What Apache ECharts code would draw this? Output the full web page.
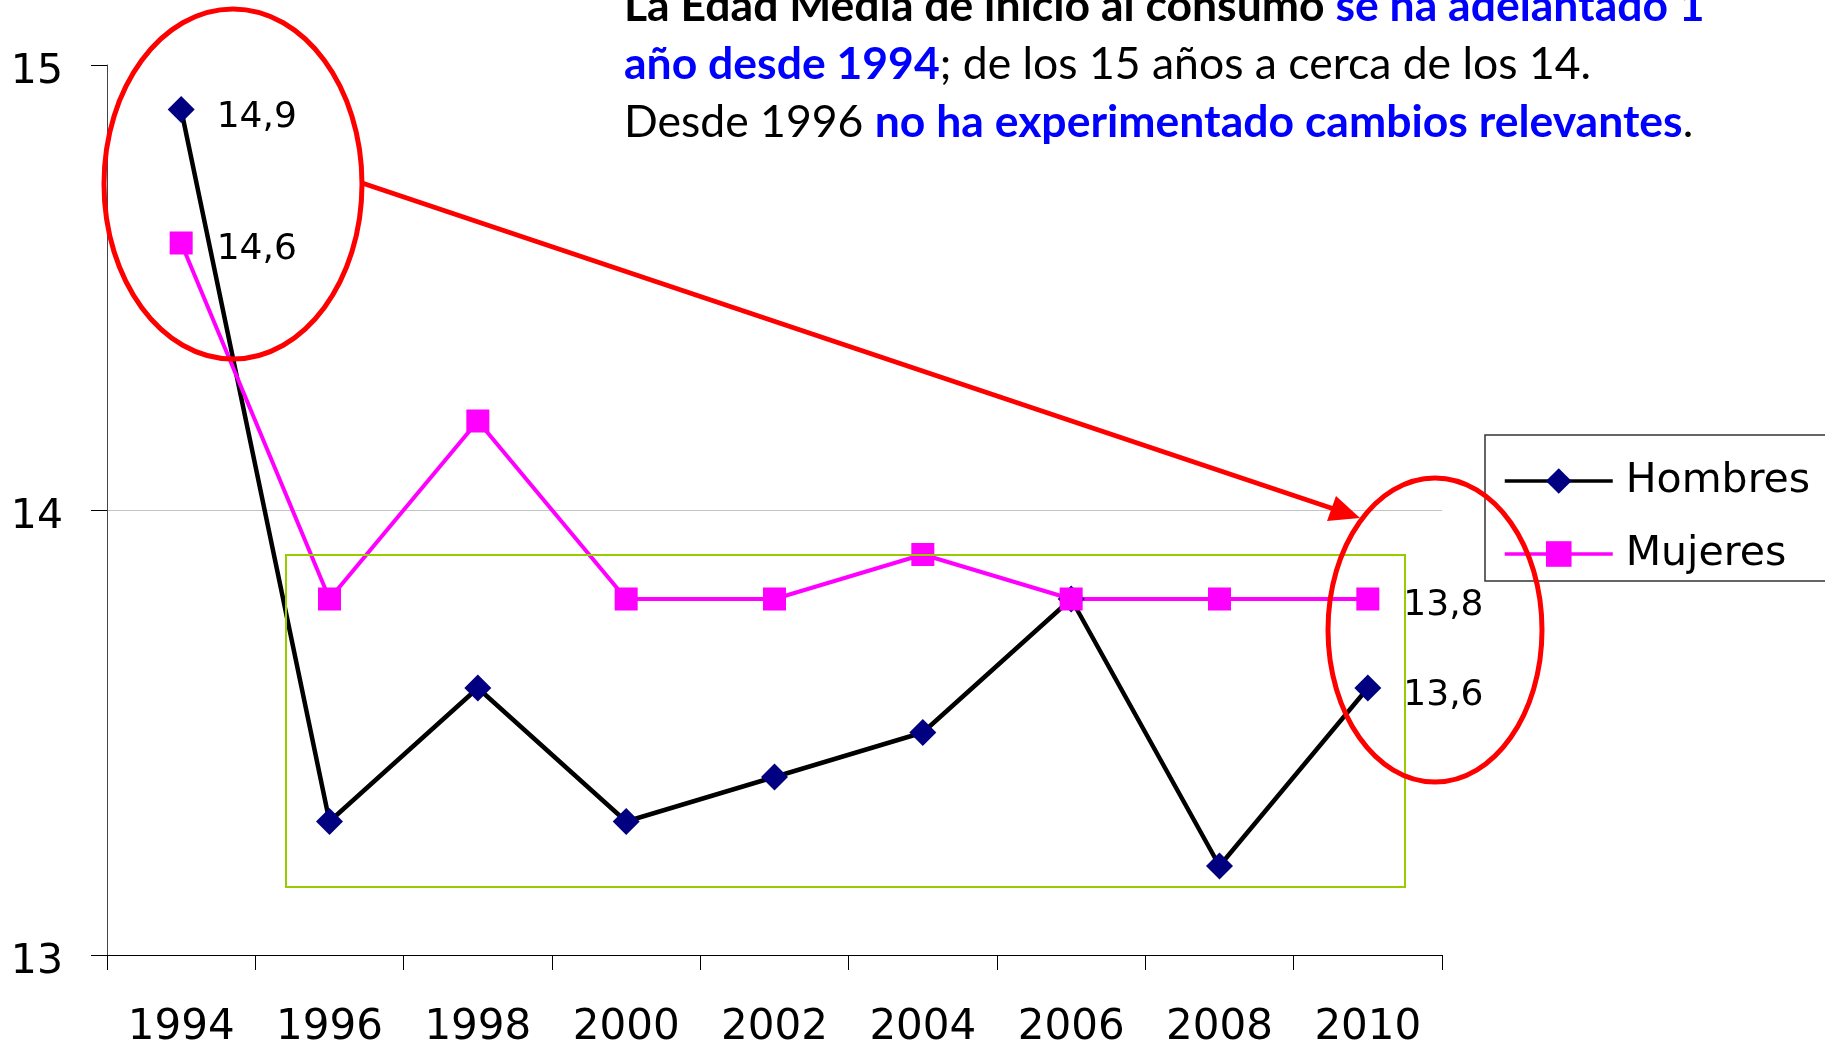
<!DOCTYPE html>
<html>
<head>
<meta charset="utf-8">
<script src="https://cdn.jsdelivr.net/npm/echarts@6/dist/echarts.min.js"></script>
<style>
  html, body { margin:0; padding:0; background:#fff; }
  #main { width:1825px; height:1044px; }
</style>
</head>
<body>
<div id="main"></div>
<script>
// datos
var years = ['1994','1996','1998','2000','2002','2004','2006','2008','2010'];
var hombres = [14.9, 13.3, 13.6, 13.3, 13.4, 13.5, 13.8, 13.2, 13.6];
var mujeres = [14.6, 13.8, 14.2, 13.8, 13.8, 13.9, 13.8, 13.8, 13.8];
var yTicks = [13, 14, 15];

var AXFONT = 'DejaVu Sans';

// solo se etiquetan el primer y el último punto
function withLabels(arr) {
  return arr.map(function (v, i) {
    return { value: v, label: { show: i === 0 || i === arr.length - 1 } };
  });
}
function coma(p) { return String(p.value).replace('.', ','); }

var chart = echarts.init(document.getElementById('main'));

var option = {
  animation: false,
  backgroundColor: '#fff',
  grid: { left: 107, right: 383, top: 65, bottom: 89, outerBoundsMode: 'none', containLabel: false },
  legend: {
    orient: 'vertical',
    left: 1485, top: 435,
    padding: [24, 40, 5, 18],
    itemGap: 29,
    itemWidth: 108,
    itemHeight: 32,
    borderColor: '#333',
    borderWidth: 1.5,
    lineStyle: { width: 3.5 },
    textStyle: { fontFamily: AXFONT, fontSize: 41, color: '#000', lineHeight: 44, padding: [0, 0, 0, 8] },
    data: ['Hombres', 'Mujeres']
  },
  xAxis: {
    type: 'category',
    data: years,
    boundaryGap: true,
    axisLine: { lineStyle: { color: '#000', width: 1.2 } },
    axisTick: { show: true, length: 15, lineStyle: { color: '#000' } },
    axisLabel: { fontFamily: AXFONT, fontSize: 42, color: '#000', margin: 52 },
    splitLine: { show: false }
  },
  yAxis: {
    type: 'value',
    min: yTicks[0], max: yTicks[yTicks.length - 1], interval: 1,
    axisLine: { show: true, lineStyle: { color: '#444', width: 1 } },
    axisTick: { show: true, length: 16, lineStyle: { color: '#000' } },
    axisLabel: {
      margin: 44,
      formatter: function (v) { return '{v|' + v + '}'; },
      rich: { v: { fontFamily: AXFONT, fontSize: 41, color: '#000', padding: [14, 0, 0, 0] } }
    },
    splitLine: { show: true, lineStyle: { color: ['rgba(0,0,0,0)', '#c4c4c4', 'rgba(0,0,0,0)'], width: 1.2 } }
  },
  series: [
    {
      name: 'Hombres',
      type: 'line',
      data: withLabels(hombres),
      symbol: 'diamond',
      symbolSize: 27,
      itemStyle: { color: '#000080' },
      lineStyle: { color: '#000', width: 4.5 },
      label: { position: 'right', distance: 22, offset: [0, 8], formatter: coma,
               fontFamily: AXFONT, fontSize: 36, color: '#000' }
    },
    {
      name: 'Mujeres',
      type: 'line',
      data: withLabels(mujeres),
      symbol: 'rect',
      symbolSize: 23,
      itemStyle: { color: '#ff00ff' },
      lineStyle: { color: '#ff00ff', width: 4 },
      label: { position: 'right', distance: 24, offset: [0, 7], formatter: coma,
               fontFamily: AXFONT, fontSize: 36, color: '#000' }
    }
  ],
  graphic: [
    {
      type: 'text', left: 624, top: -16, z: 100,
      style: {
        text: '{b|La Edad Media de inicio al consumo }{bb|se ha adelantado 1}\n' +
              '{bb|año desde 1994}{n|; de los 15 años a cerca de los 14.}\n' +
              '{n|Desde 1996 }{bb|no ha experimentado cambios relevantes}{n|.}',
        rich: {
          b:  { fontFamily: 'Lato', fontSize: 44.5, fontWeight: 'bold', fill: '#000', lineHeight: 58 },
          bb: { fontFamily: 'Lato', fontSize: 44.5, fontWeight: 'bold', fill: '#0000ff', lineHeight: 58 },
          n:  { fontFamily: 'Lato', fontSize: 44.5, fill: '#000', lineHeight: 58 }
        }
      }
    },
    // recuadro verde
    { type: 'rect', z: 90, shape: { x: 286, y: 555, width: 1119, height: 332 },
      style: { fill: 'none', stroke: '#99cc00', lineWidth: 2 } },
    // elipses rojas
    { type: 'ellipse', z: 95, shape: { cx: 233, cy: 184, rx: 129, ry: 175 },
      style: { fill: 'none', stroke: '#ff0000', lineWidth: 5 } },
    { type: 'ellipse', z: 95, shape: { cx: 1435, cy: 630, rx: 107, ry: 152 },
      style: { fill: 'none', stroke: '#ff0000', lineWidth: 5 } },
    // flecha
    { type: 'line', z: 95, shape: { x1: 362, y1: 183, x2: 1334, y2: 509 },
      style: { stroke: '#ff0000', lineWidth: 5 } },
    { type: 'polygon', z: 95, shape: { points: [[1360, 518], [1327, 521], [1336, 496]] },
      style: { fill: '#ff0000' } }
  ]
};

chart.setOption(option);
</script>
</body>
</html>
